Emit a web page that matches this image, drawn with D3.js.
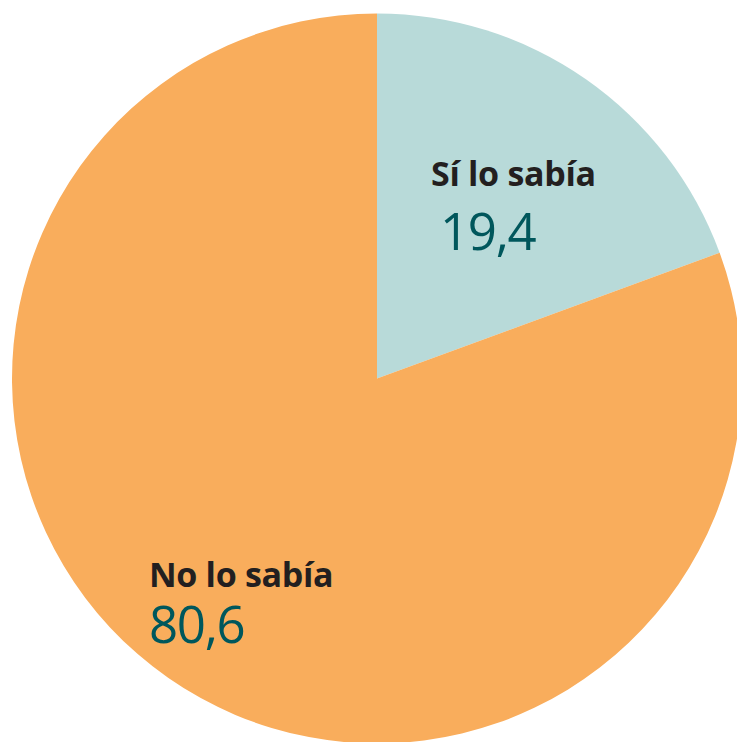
<!DOCTYPE html>
<html>
<head>
<meta charset="utf-8">
<script src="https://cdn.jsdelivr.net/npm/d3@7/dist/d3.min.js"></script>
<style>
  html, body { margin: 0; padding: 0; background: #ffffff; }
  svg { display: block; }
</style>
</head>
<body>
<svg id="chart" width="737" height="742"></svg>
<script>
// Answers and their shares (%)
const categories = ["Sí lo sabía", "No lo sabía"];
const values = [19.4, 80.6];
const valueLabels = ["19,4", "80,6"];
const colors = ["#b8dad9", "#f9ad5c"];

const width = 737, height = 742;
const cx = 377, cy = 378.5, radius = 365;

const svg = d3.select("#chart");
const g = svg.append("g").attr("transform", `translate(${cx},${cy})`);

const pie = d3.pie().sort(null).value(d => d.value);
const arc = d3.arc().innerRadius(0).outerRadius(radius);

const data = categories.map((c, i) => ({ name: c, value: values[i], label: valueLabels[i], color: colors[i] }));
const arcs = pie(data);

g.selectAll("path.slice")
  .data(arcs)
  .join("path")
  .attr("class", "slice")
  .attr("d", arc)
  .attr("fill", d => d.data.color);

// Label placement, relative to the pie centre
const labelPos = [
  { x: 431 - cx, y: 186 - cy, dx: 9, dy: 64 },
  { x: 149 - cx, y: 587 - cy, dx: 0, dy: 56 }
];

const labels = g.selectAll("g.label")
  .data(arcs)
  .join("g")
  .attr("class", "label")
  .attr("transform", (d, i) => `translate(${labelPos[i].x},${labelPos[i].y})`);

labels.append("text")
  .attr("font-family", "'Open Sans', sans-serif")
  .attr("font-weight", 700)
  .attr("font-size", 34)
  .attr("letter-spacing", -0.3)
  .attr("fill", "#231f20")
  .text(d => d.data.name);

labels.append("text")
  .attr("x", (d, i) => labelPos[i].dx)
  .attr("y", (d, i) => labelPos[i].dy)
  .attr("font-family", "'Open Sans', sans-serif")
  .attr("font-weight", 400)
  .attr("font-size", 51)
  .attr("letter-spacing", -1.3)
  .attr("fill", "#00575c")
  .text(d => d.data.label);
</script>
</body>
</html>
